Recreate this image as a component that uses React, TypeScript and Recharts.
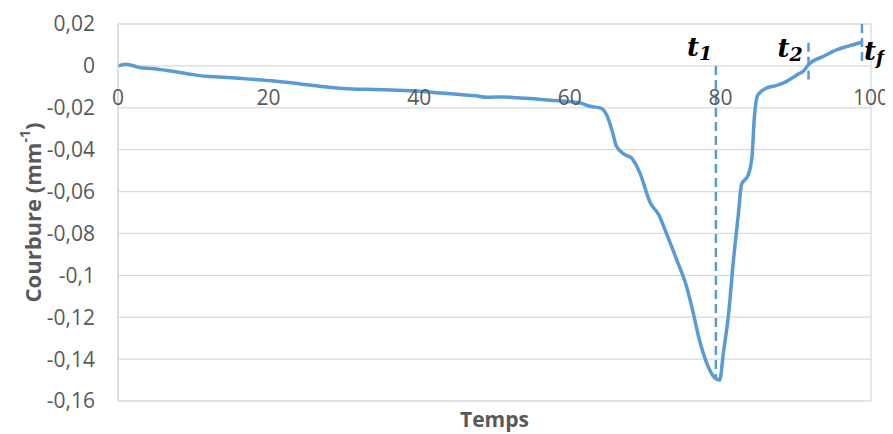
import { LineChart, Line, XAxis, YAxis, CartesianGrid, ReferenceLine, ReferenceDot } from 'recharts';

// time (x) and curvature (mm-1)
const times = [
  0, 1, 2, 3, 4.5, 6.5, 9, 11.7, 13.5, 17, 20, 24.2, 27, 29.9, 33.9, 37, 40, 43, 45.4, 47.5,
  49, 51.2, 53, 54.7, 57, 59, 61.4, 62.7, 64.2, 64.9, 65.7, 66.2, 67.3, 68.2, 69.3, 70.7, 71.8,
  72.9, 74.2, 75.5, 76.4, 77.1, 78.2, 79.3, 79.9, 80.4, 81.1, 81.7, 82.4, 82.8, 83.7, 84.2,
  84.5, 85, 86.2, 87.5, 88.8, 90.2, 91, 91.7, 93.7, 95.5, 97.2, 98.8,
];
const curvature = [
  0, 0.0008, 0.0001, -0.0009, -0.0012, -0.0022, -0.0036, -0.005, -0.0053, -0.0062, -0.007,
  -0.0086, -0.0098, -0.0108, -0.0113, -0.0116, -0.0121, -0.013, -0.0137, -0.0143, -0.015,
  -0.0148, -0.0152, -0.0156, -0.0163, -0.0168, -0.0177, -0.0193, -0.0203, -0.0235, -0.032,
  -0.0384, -0.0424, -0.044, -0.0511, -0.0655, -0.071, -0.0806, -0.0926, -0.1053, -0.118,
  -0.1292, -0.142, -0.1491, -0.15, -0.137, -0.118, -0.094, -0.0703, -0.0567, -0.052, -0.0432,
  -0.025, -0.0137, -0.0105, -0.0093, -0.0074, -0.0042, -0.0026, 0.0006, 0.0046, 0.0078,
  0.0097, 0.0113,
];

const xTicks = [0, 20, 40, 60, 80, 100];
const yTicks = [0.02, 0, -0.02, -0.04, -0.06, -0.08, -0.1, -0.12, -0.14, -0.16];

// dashed markers t1, t2, tf
const markerNames = ['1', '2', 'f'];
const markerTimes = [79.4, 91.7, 98.8];
const markerTops = [0, 0.011, 0.02];
const markerBottoms = [-0.149, -0.0065, 0];

const data = times.map((t, i) => ({ time: t, value: curvature[i] }));

const blue = '#5B9BD5';
const grid = '#d9d9d9';
const grey = '#595959';
const font = '"Open Sans", sans-serif';

const fmt = (v: number) => String(Math.round(v * 100) / 100).replace('.', ',');

const labelShift = [
  { dx: -29, dy: -10 },
  { dx: -31, dy: 14 },
  { dx: 2, dy: 36 },
];

const markerLabel = (name: string, i: number) => (props: any) => {
  const { x, y } = props.viewBox;
  return (
    <text
      x={x + labelShift[i].dx}
      y={y + labelShift[i].dy}
      fontFamily='"DejaVu Serif", serif'
      fontWeight="bold"
      fontStyle="italic"
      fontSize={26}
      fill="#000"
    >
      t<tspan fontSize={19} dy={4}>{name}</tspan>
    </text>
  );
};

const xTickLabel = (t: number) => (props: any) => {
  const { x, y, width } = props.viewBox;
  return (
    <text x={x + width / 2} y={y + 39} textAnchor="middle" fill={grey} fontSize={21} fontFamily={font}>
      {t}
    </text>
  );
};

const yTitle = (props: any) => {
  const { x, y, height } = props.viewBox;
  const cx = x + 24;
  const cy = y + height / 2;
  return (
    <text
      x={cx}
      y={cy}
      transform={`rotate(-90 ${cx} ${cy})`}
      textAnchor="middle"
      dominantBaseline="central"
      fill={grey}
      fontSize={22}
      fontWeight="bold"
      fontFamily={font}
    >
      Courbure (mm<tspan dy={-8} fontSize={14}>-1</tspan>
      <tspan dy={8}>)</tspan>
    </text>
  );
};

const xTitle = (props: any) => {
  const { x, y, width } = props.viewBox;
  return (
    <text x={x + width / 2} y={y + 26} textAnchor="middle" fill={grey} fontSize={21} fontWeight="bold" fontFamily={font}>
      Temps
    </text>
  );
};

export default function App() {
  return (
    <LineChart
      width={885}
      height={426}
      data={data}
      margin={{ top: 16, right: 22, left: 0, bottom: 0 }}
      style={{ fontFamily: font }}
    >
      <CartesianGrid stroke={grid} strokeWidth={1.3} />
      <XAxis
        type="number"
        dataKey="time"
        domain={[0, 100]}
        ticks={xTicks}
        tick={false}
        axisLine={false}
        tickLine={false}
        height={33}
        label={{ content: xTitle }}
      />
      <YAxis
        type="number"
        domain={[-0.16, 0.02]}
        ticks={yTicks}
        interval={0}
        width={110}
        tickFormatter={fmt}
        tick={{ fill: grey, fontSize: 21, fontFamily: font }}
        tickLine={false}
        tickMargin={17}
        axisLine={{ stroke: grid, strokeWidth: 1.3 }}
        label={{ content: yTitle }}
      />
      {xTicks.map((t) => (
        <ReferenceDot key={t} x={t} y={0} r={0} stroke="none" fill="none" label={{ content: xTickLabel(t) }} />
      ))}
      {markerTimes.map((t, i) => (
        <ReferenceLine
          key={markerNames[i]}
          segment={[
            { x: t, y: markerTops[i] },
            { x: t, y: markerBottoms[i] },
          ]}
          stroke={blue}
          strokeWidth={2.5}
          strokeDasharray="9 5"
          label={{ content: markerLabel(markerNames[i], i) }}
        />
      ))}
      <Line
        type="monotone"
        dataKey="value"
        stroke={blue}
        strokeWidth={3.5}
        dot={false}
        isAnimationActive={false}
      />
    </LineChart>
  );
}
